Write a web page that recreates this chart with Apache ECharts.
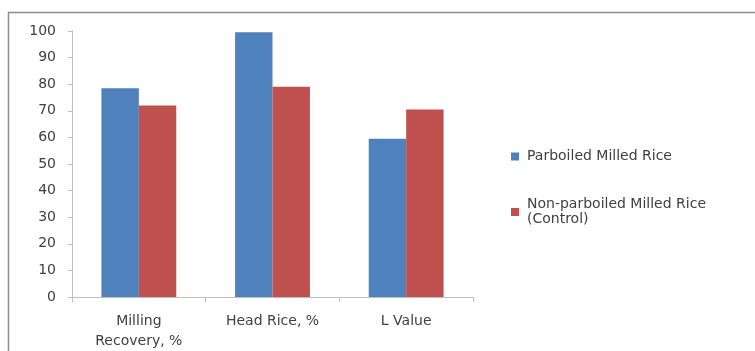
<!DOCTYPE html>
<html>
<head>
<meta charset="utf-8">
<script src="https://cdn.jsdelivr.net/npm/echarts@6/dist/echarts.min.js"></script>
<style>
    html, body { margin: 0; padding: 0; background: #fff; }
    #chart { width: 755px; height: 351px; }
</style>
</head>
<body>
<div id="chart"></div>
<script>
    // 数据
    var categories = ['Milling\nRecovery, %', 'Head Rice, %', 'L Value'];
    var parboiled = [78.5, 99.5, 59.5];
    var nonParboiled = [72, 79, 70.5];
    var seriesNames = ['Parboiled Milled Rice', 'Non-parboiled Milled Rice\n(Control)'];

    var textColor = '#404040';
    var fontFamily = '"DejaVu Sans", sans-serif';

    var chart = echarts.init(document.getElementById('chart'));
    var option = {
        animation: false,
        textStyle: { fontFamily: fontFamily },
        graphic: [{
            type: 'rect',
            shape: { x: 8.5, y: 12.5, width: 800, height: 400 },
            style: { fill: 'none', stroke: '#8c8c8c', lineWidth: 1.5 },
            silent: true
        }],
        grid: { left: 72, right: 282, top: 31, bottom: 51 },
        legend: {
            orient: 'vertical',
            left: 506,
            top: 144,
            itemWidth: 8,
            itemHeight: 8,
            itemGap: 33,
            icon: 'rect',
            textStyle: {
                color: textColor, fontSize: 14, lineHeight: 15,
                padding: [0, 0, 0, 3], fontFamily: fontFamily
            },
            data: seriesNames
        },
        xAxis: {
            type: 'category',
            data: categories,
            axisLine: { lineStyle: { color: '#bfbfbf' } },
            axisTick: { show: true, length: 5, lineStyle: { color: '#bfbfbf' } },
            axisLabel: { color: textColor, fontSize: 14, lineHeight: 20, margin: 14, fontFamily: fontFamily }
        },
        yAxis: {
            type: 'value',
            min: 0,
            max: 100,
            interval: 10,
            axisLine: { show: true, lineStyle: { color: '#bfbfbf' } },
            axisTick: { show: true, length: 4, lineStyle: { color: '#bfbfbf' } },
            splitLine: { show: false },
            axisLabel: { color: textColor, fontSize: 14, margin: 16, fontFamily: fontFamily }
        },
        series: [
            {
                name: seriesNames[0],
                type: 'bar',
                data: parboiled,
                barGap: '0%',
                barCategoryGap: '44%',
                itemStyle: { color: '#4f81bd' }
            },
            {
                name: seriesNames[1],
                type: 'bar',
                data: nonParboiled,
                barGap: '0%',
                barCategoryGap: '44%',
                itemStyle: { color: '#c0504d' }
            }
        ]
    };
    chart.setOption(option);
    window.addEventListener('resize', function () {
        chart.resize();
    });
</script>
</body>
</html>
